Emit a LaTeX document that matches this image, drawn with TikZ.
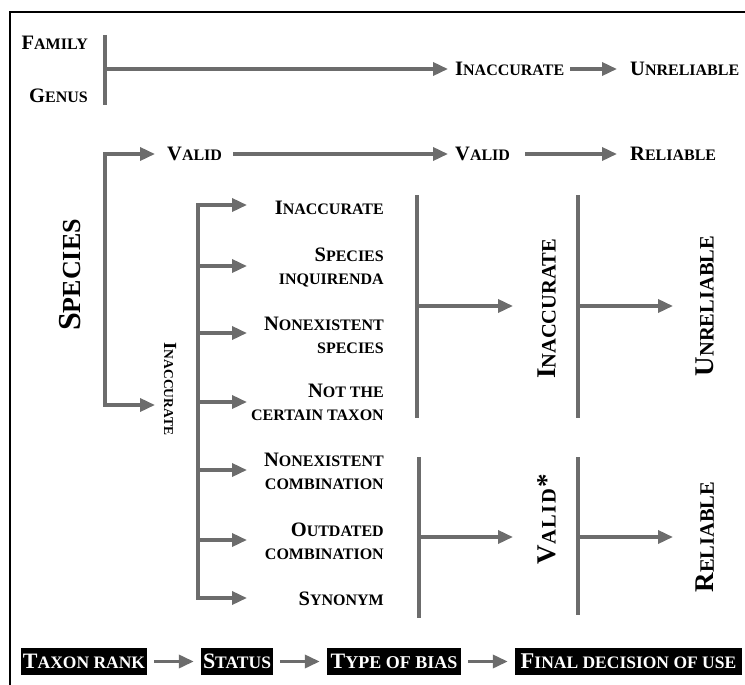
\documentclass[tikz,border=0pt]{standalone}
\usepackage{fontspec}
\setmainfont{Liberation Serif}
\usetikzlibrary{arrows.meta}
\definecolor{arrgray}{RGB}{108,108,108}
\newcommand\scX[4]{{\fontsize{#1}{#1}\selectfont #3}{\fontsize{#2}{#2}\selectfont #4}}
\newcommand\scN[2]{\scX{20.5pt}{16pt}{#1}{#2}}
\newcommand\scL[2]{\scX{27pt}{20.5pt}{#1}{#2}}
\newcommand\scH[2]{\scX{32pt}{26pt}{#1}{#2}}
\newcommand\scS[2]{\scX{18.5pt}{13.5pt}{#1}{#2}}
\newcommand\scB[2]{\scX{22pt}{17.5pt}{#1}{#2}}
\newcommand\scBB[2]{\scX{22.5pt}{17.5pt}{#1}{#2}}
\begin{document}
\begin{tikzpicture}[x=1pt,y=-1pt,
  lbl/.style={inner sep=0pt, font=\bfseries},
  lbltwo/.style={inner sep=0pt, align=right, font=\bfseries\fontsize{16pt}{23pt}\selectfont},
  bar/.style={draw=arrgray, line width=3.5pt},
  arr/.style={draw=arrgray, line width=3.5pt, -{Triangle[length=15pt,width=13pt]}},
  legbox/.style={fill=black, text=white, font=\bfseries, minimum height=27pt, inner sep=0pt},
  frame/.style={draw=black, line width=1.5pt}]
\useasboundingbox (0,0) rectangle (745,685);
\coordinate (frbl) at (10,686);
\coordinate (frtl) at (10,12);
\coordinate (frtr) at (746,12);
\draw[frame] (frbl) -- (frtl) -- (frtr);

% Family / Genus
\node[lbl, anchor=east] (family) at (88,43) {\scN{F}{AMILY}};
\node[lbl, anchor=east] (genus) at (88,96) {\scN{G}{ENUS}};
\coordinate (fgtop) at (105,35);
\coordinate (fgbot) at (105,105);
\coordinate (fgmid) at (105,69);
\draw[bar] (fgtop) -- (fgbot);
\node[lbl, anchor=west] (inaccT) at (455,69) {\scN{I}{NACCURATE}};
\node[lbl, anchor=west] (unrelT) at (630,69) {\scN{U}{NRELIABLE}};
\draw[arr] (fgmid) -- ([xshift=-7pt]inaccT.west);
\draw[arr] ([xshift=6pt]inaccT.east) -- ([xshift=-13pt]unrelT.west);

% Species
\node[lbl, rotate=90] (species) at (70,275) {\scH{S}{PECIES}};
\coordinate (sptop) at (105,154);
\coordinate (spbot) at (105,405);
\coordinate (tipS) at (155,405);
\draw[bar, line cap=rect] (sptop) -- (spbot);
\node[lbl, anchor=west] (valid1) at (167,154) {\scN{V}{ALID}};
\node[lbl, anchor=west] (valid2) at (455,154) {\scN{V}{ALID}};
\node[lbl, anchor=west] (rel1) at (630,154) {\scN{R}{ELIABLE}};
\draw[arr] (sptop) -- ([xshift=-12pt]valid1.west);
\draw[arr] ([xshift=11pt]valid1.east) -- ([xshift=-7pt]valid2.west);
\draw[arr] ([xshift=15pt]valid2.east) -- ([xshift=-13pt]rel1.west);
\draw[arr] (spbot) -- (tipS);
\node[lbl, rotate=-90] (inaccV) at (170,389) {\scS{I}{NACCURATE}};

% second tree
\coordinate (trtop) at (198,205);
\coordinate (trbot) at (198,598);
\draw[bar, line cap=rect] (trtop) -- (trbot);
\foreach \yy/\nn in {205/1,266/2,333/3,402/4,470/5,540/6,598/7}{
  \coordinate (s\nn) at (198,\yy);
  \coordinate (e\nn) at (247,\yy);
  \draw[arr] (s\nn) -- (e\nn);
}
\node[lbl, anchor=east] (b1) at (384,208) {\scN{I}{NACCURATE}};
\node[lbltwo, anchor=east] (b2) at (384,268) {\scN{S}{PECIES}\\\scN{}{INQUIRENDA}};
\node[lbltwo, anchor=east] (b3) at (384,335) {\scN{N}{ONEXISTENT}\\\scN{}{SPECIES}};
\node[lbltwo, anchor=east] (b4) at (384,402) {\scN{N}{OT THE}\\\scN{}{CERTAIN TAXON}};
\node[lbltwo, anchor=east] (b5) at (384,471) {\scN{N}{ONEXISTENT}\\\scN{}{COMBINATION}};
\node[lbltwo, anchor=east] (b6) at (384,541) {\scN{O}{UTDATED}\\\scN{}{COMBINATION}};
\node[lbl, anchor=east] (b7) at (384,599) {\scN{S}{YNONYM}};

% upper right group
\coordinate (u1t) at (417,195);
\coordinate (u1b) at (417,418);
\coordinate (u1m) at (417,306);
\coordinate (u1e) at (513,306);
\draw[bar] (u1t) -- (u1b);
\draw[arr] (u1m) -- (u1e);
\node[lbl, rotate=90] (inaccB) at (547,309) {\scL{I}{NACCURATE}};
\coordinate (u2t) at (578,195);
\coordinate (u2b) at (578,418);
\coordinate (u2m) at (578,306);
\coordinate (u2e) at (673,306);
\draw[bar] (u2t) -- (u2b);
\draw[arr] (u2m) -- (u2e);
\node[lbl, rotate=90] (unrelB) at (705,306) {\scL{U}{NRELIABLE}};

% lower right group
\coordinate (l1t) at (419,457);
\coordinate (l1b) at (419,618);
\coordinate (l1m) at (419,537);
\coordinate (l1e) at (513,537);
\draw[bar] (l1t) -- (l1b);
\draw[arr] (l1m) -- (l1e);
\node[lbl, rotate=90] (validB) at (547,519) {\scL{V}{A\kern1.5pt L\kern1.5pt I\kern1.5pt D\kern2pt{\fontsize{27pt}{27pt}\selectfont *}}};
\coordinate (l2t) at (578,457);
\coordinate (l2b) at (578,615);
\coordinate (l2m) at (578,537);
\coordinate (l2e) at (673,537);
\draw[bar] (l2t) -- (l2b);
\draw[arr] (l2m) -- (l2e);
\node[lbl, rotate=90] (relB) at (705,537) {\scL{R}{ELIABLE}};

% legend
\node[legbox, minimum width=126pt] (lg1) at (84,661.5) {\scB{T}{AXON RANK}};
\node[legbox, minimum width=72pt] (lg2) at (237,661.5) {\scB{S}{TATUS}};
\node[legbox, minimum width=134pt] (lg3) at (394,661.5) {\scX{22pt}{18pt}{T}{YPE OF BIAS}};
\node[legbox, minimum width=227pt] (lg4) at (628.5,661.5) {\scBB{F}{INAL DECISION OF USE}};
\draw[arr] ([xshift=7pt]lg1.east) -- ([xshift=-7pt]lg2.west);
\draw[arr] ([xshift=7pt]lg2.east) -- ([xshift=-7pt]lg3.west);
\draw[arr] ([xshift=7pt]lg3.east) -- ([xshift=-7pt]lg4.west);
\end{tikzpicture}
\end{document}
